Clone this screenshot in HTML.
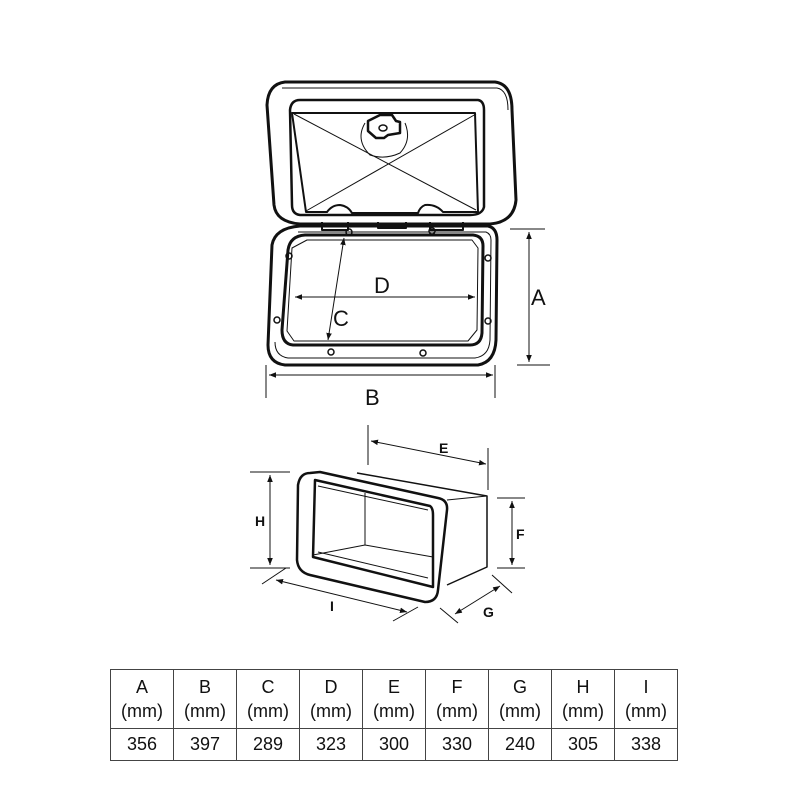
<!DOCTYPE html>
<html><head><meta charset="utf-8"><style>
body{margin:0;background:#fff;width:800px;height:800px;overflow:hidden}
svg{position:absolute;left:0;top:0}
table{position:absolute;left:110px;top:669px;border-collapse:collapse;font-family:"Liberation Sans",sans-serif;font-size:18px;color:#111}
td{border:1px solid #444;width:62px;text-align:center;padding:0}
tr.h td{height:58px;line-height:24px}
tr.v td{height:31px}
</style></head><body>
<svg width="800" height="800" viewBox="0 0 800 800" fill="none" stroke="#111" stroke-linejoin="round">
<defs>
<marker id="a" viewBox="0 0 10 10" refX="10" refY="5" markerWidth="7" markerHeight="7" orient="auto-start-reverse"><path d="M0,1 L10,5 L0,9z" fill="#111" stroke="none"/></marker>
</defs>
<!-- lid -->
<path d="M285,82 L495,82 Q512,84 512,110 L516,200 Q514,222 490,224 L300,224 Q276,222 274,205 L267,105 Q268,84 285,82Z" stroke-width="3"/>
<path d="M282,88 L497,88 Q508,90 508,110" stroke-width="1"/>
<path d="M300,100 L478,100 Q484,101 484,110 L484,207 Q482,215 470,215 L300,215 Q292,214 292,205 L290,110 Q291,100 300,100Z" stroke-width="2.5"/>
<path d="M292,113 L475,113 L478,212 L443,212 Q436,204 425,205 Q420,207 418,213 L352,213 Q348,206 340,205 Q332,205 327,212 L306,212Z" stroke-width="2"/>
<path d="M294,114 L476,210 M476,114 L306,211" stroke-width="1"/>
<path d="M365,123 Q355,140 370,155 Q385,160 400,153 Q412,140 405,123" stroke-width="1"/>
<path d="M368,121 L380,115 L392,115 L396,121 L400,122 L400,133 L388,135 L384,138 L376,138 L368,131Z" stroke-width="2.5"/>
<ellipse cx="383" cy="128" rx="4" ry="3" stroke-width="1.5"/>
<!-- hinge -->
<path d="M322,222 L322,230 L348,230 L348,222 M378,222 L378,228 L406,228 L406,222 M430,222 L430,230 L463,230 L463,222" stroke-width="2"/>
<!-- base -->
<path d="M300,226 L488,226 Q497,228 497,240 L496,340 Q495,362 478,365 L285,365 Q268,363 268,345 L272,245 Q275,228 300,226Z" stroke-width="3"/>
<path d="M298,232 L486,232 Q491,234 491,240 L490,340 Q489,356 475,358 L288,358 Q275,356 275,342" stroke-width="1"/>
<path d="M305,235 L473,235 Q483,236 483,246 L482,333 Q481,345 470,345 L293,345 Q282,344 282,330 L288,250 Q290,236 305,235Z" stroke-width="3"/>
<path d="M307,240 L472,240 L478,248 L477,330 L468,341 L294,341 L287,331 L292,248Z" stroke-width="1"/>
<g stroke-width="1.5">
<ellipse cx="349" cy="232" rx="3" ry="3"/><ellipse cx="432" cy="231" rx="3" ry="3"/>
<ellipse cx="289" cy="256" rx="3" ry="3"/><ellipse cx="488" cy="258" rx="3" ry="3"/>
<ellipse cx="277" cy="320" rx="3" ry="3"/><ellipse cx="488" cy="321" rx="3" ry="3"/>
<ellipse cx="331" cy="352" rx="3" ry="3"/><ellipse cx="423" cy="353" rx="3" ry="3"/>
</g>
<!-- dims top -->
<g stroke-width="1">
<line x1="510" y1="229" x2="545" y2="229"/><line x1="517" y1="365" x2="550" y2="365"/>
<line x1="529" y1="232" x2="529" y2="362" marker-start="url(#a)" marker-end="url(#a)"/>
<line x1="266" y1="365" x2="266" y2="398"/><line x1="495" y1="365" x2="495" y2="398"/>
<line x1="269" y1="375" x2="493" y2="375" marker-start="url(#a)" marker-end="url(#a)"/>
<line x1="295" y1="297" x2="475" y2="297" marker-start="url(#a)" marker-end="url(#a)"/>
<line x1="344" y1="238" x2="328" y2="340" marker-start="url(#a)" marker-end="url(#a)"/>
</g>
<g fill="#111" stroke="none" font-family="Liberation Sans,sans-serif" font-size="22">
<text x="531" y="305">A</text><text x="365" y="405">B</text><text x="374" y="293">D</text><text x="333" y="326">C</text>
</g>
<!-- box -->
<path d="M357,473 L487,496 L487,567 L447,585" stroke-width="1.5"/>
<path d="M447,500 L487,496" stroke-width="1"/>
<path d="M310,473 Q300,473 298,485 L297,560 Q298,572 310,575 L425,602 Q437,602 438,590 L447,510 Q448,500 438,498 L320,472Z" stroke-width="2.5"/>
<path d="M315,480 L430,506 Q433,508 433,515 L433,587 L313,557Z" stroke-width="2.5"/>
<path d="M365,493 L365,545 M313,555 L365,545 L433,557" stroke-width="1"/>
<path d="M318,486 L428,510 M318,552 L428,578" stroke-width="1"/>
<!-- box dims -->
<g stroke-width="1">
<line x1="368" y1="425" x2="368" y2="465"/><line x1="488" y1="448" x2="488" y2="490"/>
<line x1="371" y1="441" x2="486" y2="464" marker-start="url(#a)" marker-end="url(#a)"/>
<line x1="250" y1="472" x2="290" y2="472"/><line x1="250" y1="568" x2="290" y2="568"/>
<line x1="270" y1="475" x2="270" y2="565" marker-start="url(#a)" marker-end="url(#a)"/>
<line x1="497" y1="498" x2="525" y2="498"/><line x1="497" y1="568" x2="525" y2="568"/>
<line x1="512" y1="501" x2="512" y2="565" marker-start="url(#a)" marker-end="url(#a)"/>
<line x1="262" y1="584" x2="286" y2="568"/><line x1="393" y1="621" x2="418" y2="607"/>
<line x1="276" y1="580" x2="407" y2="612" marker-start="url(#a)" marker-end="url(#a)"/>
<line x1="440" y1="608" x2="458" y2="623"/><line x1="492" y1="575" x2="512" y2="593"/>
<line x1="455" y1="614" x2="500" y2="586" marker-start="url(#a)" marker-end="url(#a)"/>
</g>
<g fill="#111" stroke="none" font-family="Liberation Sans,sans-serif" font-size="14" font-weight="bold">
<text x="255" y="526">H</text><text x="516" y="539">F</text><text x="439" y="453">E</text>
<text x="483" y="617">G</text><text x="330" y="611">I</text>
</g>
</svg>
<table>
<tr class="h"><td>A<br>(mm)</td><td>B<br>(mm)</td><td>C<br>(mm)</td><td>D<br>(mm)</td><td>E<br>(mm)</td><td>F<br>(mm)</td><td>G<br>(mm)</td><td>H<br>(mm)</td><td>I<br>(mm)</td></tr>
<tr class="v"><td>356</td><td>397</td><td>289</td><td>323</td><td>300</td><td>330</td><td>240</td><td>305</td><td>338</td></tr>
</table>
</body></html>
